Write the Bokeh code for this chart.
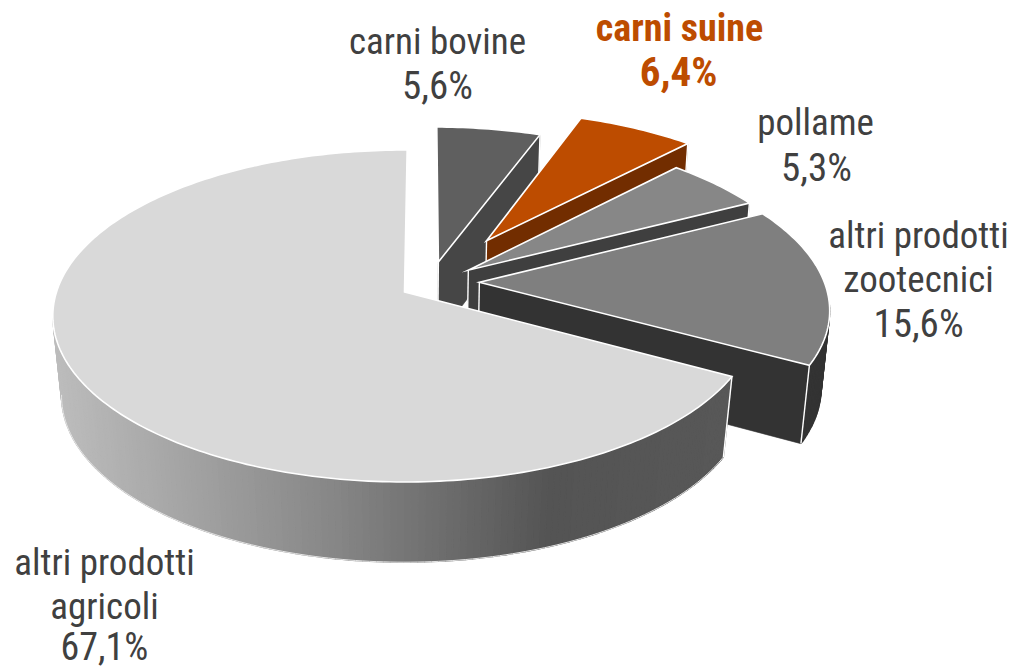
import numpy as np
from bokeh.plotting import figure
from bokeh.models import Range1d
from bokeh.core.properties import value
from bokeh.embed import file_html
from bokeh.resources import INLINE

# Data
categories = ["carni bovine", "carni suine", "pollame", "altri prodotti zootecnici", "altri prodotti agricoli"]
shares = [5.6, 6.4, 5.3, 15.6, 67.1]
share_labels = ["5,6%", "6,4%", "5,3%", "15,6%", "67,1%"]

# Styles
top_colors = ["#5f5f5f", "#bd4c00", "#878787", "#7f7f7f", "#d9d9d9"]
wall_colors = ["#464646", "#722d00", "#3f3f3f", "#333333", None]
explode_x = [0.10, 0.247, 0.187, 0.217, 0.0]
explode_y = [0.19, 0.33, 0.137, 0.06, 0.0]
grad_x = [55, 330, 550, 730]
grad_v = [188, 135, 84, 88]

W, H = 1015, 668
p = figure(width=W, height=H, output_backend="svg", toolbar_location=None,
           x_range=Range1d(0, W), y_range=Range1d(H, 0),
           min_border=0, outline_line_color=None, border_fill_color="white",
           background_fill_color="white")
p.axis.visible = False
p.grid.visible = False

CX, CY, F, G, K = 404.0, 291.5, 348.0, 162.5, 0.1446
# bottom plane of the exploded slices, and of the big slice
BOT = [(368.0, 170.0, 1.02)] * 4 + [(372.0, 167.0, 1.025)]


def top(X, Y):
    w = 1 + K * Y
    return CX + F * X / w, CY - G * Y / w


def bottom(X, Y, plane):
    cy2, g2, c2 = plane
    w = c2 + K * Y
    return CX + F * X / w, cy2 - g2 * Y / w


def gray(x):
    v = int(round(float(np.interp(x, grad_x, grad_v))))
    return "#%02x%02x%02x" % (v, v, v)


edges = np.cumsum([0] + shares) / sum(shares) * 360 + 0.5

for i in range(len(shares)):
    a0, a1 = np.radians(edges[i]), np.radians(edges[i + 1])
    n = max(8, int((edges[i + 1] - edges[i]) * 1.0))
    th = np.linspace(a0, a1, n + 1)
    X = explode_x[i] + np.sin(th)
    Y = explode_y[i] + np.cos(th)
    tx, ty = top(X, Y)
    bx, by = bottom(X, Y, BOT[i])
    ax, ay = top(explode_x[i], explode_y[i])
    cx, cy = bottom(explode_x[i], explode_y[i], BOT[i])

    # outer wall: only the part of the rim that faces the viewer
    keep = np.cos(th) < -0.12
    xs, ys, cols = [], [], []
    for j in range(n):
        if keep[j] and keep[j + 1]:
            xs.append([tx[j], tx[j + 1], bx[j + 1], bx[j]])
            ys.append([ty[j], ty[j + 1], by[j + 1], by[j]])
            cols.append(wall_colors[i] or gray((tx[j] + tx[j + 1]) / 2))
    if xs:
        p.patches(xs, ys, fill_color=cols, line_color=cols, line_width=1.3)
    if wall_colors[i] is None:
        # light silhouette and the white corner edge at the start of the wall
        p.line(list(bx[keep]), list(by[keep]), line_color="#e4e4e4", line_width=1)
        p.line([tx[0], bx[0]], [ty[0], by[0]], line_color="white", line_width=1.4)
    else:
        # radial wall on the clockwise side
        p.patch([ax, tx[-1], bx[-1], cx], [ay, ty[-1], by[-1], cy],
                fill_color=wall_colors[i], line_color=wall_colors[i], line_width=0.6)
        p.line([tx[-1], bx[-1]], [ty[-1], by[-1]], line_color="white", line_width=1.4)
        p.line([ax, cx], [ay, cy], line_color="white", line_width=1.4)

    # top face
    p.patch([ax] + list(tx), [ay] + list(ty), fill_color=top_colors[i],
            line_color="white", line_width=1.6, line_join="miter")

# Labels
font = value("Roboto Condensed")
INK = "#404040"
ACCENT = top_colors[1]
lab_x = [437, 437, 679, 678, 815, 816, 918, 918, 918, 104, 104, 104]
lab_y = [41, 85, 27, 71, 122, 167, 235, 279, 323, 562, 606, 646]
lab_s = [37, 39, 38, 41, 37, 39, 37, 37, 39, 37, 37, 38]
lab_t = ["carni bovine", share_labels[0], "carni suine", share_labels[1], "pollame", share_labels[2],
         "altri prodotti", "zootecnici", share_labels[3], "altri prodotti", "agricoli", share_labels[4]]
for x, y, s, t in zip(lab_x, lab_y, lab_s, lab_t):
    accent = t in ("carni suine", share_labels[1])
    p.text([x], [y], text=[t], text_font=font, text_font_size=f"{s}px",
           text_font_style="bold" if accent else "normal",
           text_color=ACCENT if accent else INK, text_align="center", text_baseline="middle")

open("out.html", "w").write(file_html(p, INLINE))
